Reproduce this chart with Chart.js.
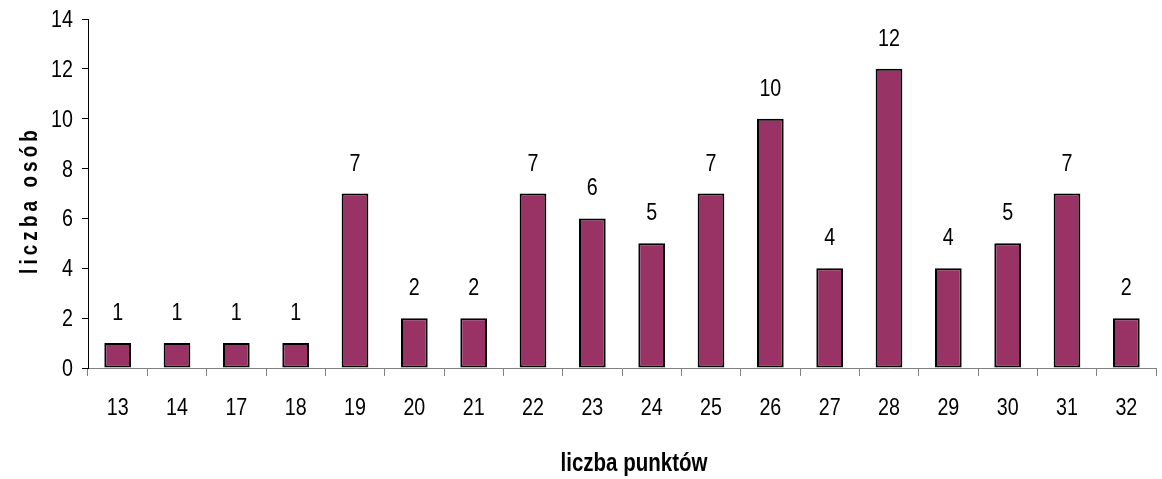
<!DOCTYPE html>
<html>
<head>
<meta charset="utf-8">
<script src="https://cdn.jsdelivr.net/npm/chart.js@4/dist/chart.umd.min.js"></script>
<style>
  html, body { margin: 0; padding: 0; background: #fff; }
  #wrap { width: 1162px; height: 479px; }
</style>
</head>
<body>
<div id="wrap"><canvas id="canvas"></canvas></div>
<script>
var points = ["13", "14", "17", "18", "19", "20", "21", "22", "23", "24", "25", "26", "27", "28", "29", "30", "31", "32"];
var people = [1, 1, 1, 1, 7, 2, 2, 7, 6, 5, 7, 10, 4, 12, 4, 5, 7, 2];
var yTicks = [0, 2, 4, 6, 8, 10, 12, 14];
var xTitle = 'liczba punktów';
var yTitle = 'liczba osób';

var fontFamily = "'Liberation Sans', Arial, sans-serif";
var narrow = 0.82; // squeeze to look like Arial Narrow

function narrowText(ctx, text, x, y, font, align, baseline) {
    ctx.save();
    ctx.font = font;
    ctx.fillStyle = '#000';
    ctx.textAlign = align;
    ctx.textBaseline = baseline;
    ctx.translate(x, y);
    ctx.scale(narrow, 1);
    ctx.fillText(text, 0, 0);
    ctx.restore();
}

// tick labels, value labels and axis titles in a narrow face
var narrowLabels = {
    id: 'narrowLabels',
    afterDraw: function(chart) {
        var ctx = chart.ctx;
        var xs = chart.scales.x, ys = chart.scales.y;
        var area = chart.chartArea;
        var f = "24px " + fontFamily;

        yTicks.forEach(function(v) {
            narrowText(ctx, String(v), area.left - 15, ys.getPixelForValue(v) + 8, f, 'right', 'alphabetic');
        });
        points.forEach(function(p, i) {
            narrowText(ctx, p, xs.getPixelForValue(i), area.bottom + 47, f, 'center', 'alphabetic');
        });
        var meta = chart.getDatasetMeta(0);
        meta.data.forEach(function(bar, i) {
            narrowText(ctx, String(people[i]), bar.x, bar.y - 23, f, 'center', 'alphabetic');
        });

        narrowText(ctx, xTitle, 634, 471, "bold 25px " + fontFamily, 'center', 'alphabetic');

        ctx.save();
        ctx.translate(37, 200);
        ctx.rotate(-Math.PI / 2);
        ctx.scale(narrow, 1);
        ctx.font = "bold 23px " + fontFamily;
        ctx.letterSpacing = '5px';
        ctx.fillStyle = '#000';
        ctx.textAlign = 'center';
        ctx.textBaseline = 'alphabetic';
        ctx.fillText(yTitle, 0, 0);
        ctx.restore();
    }
};

window.onload = function() {
    var ctx = document.getElementById("canvas").getContext("2d");
    new Chart(ctx, {
        type: 'bar',
        data: {
            labels: points,
            datasets: [{
                data: people,
                backgroundColor: '#993366',
                borderColor: '#000',
                borderWidth: 2,
                borderSkipped: false,
                barPercentage: 0.45,
                categoryPercentage: 1
            }]
        },
        options: {
            responsive: true,
            maintainAspectRatio: false,
            animation: false,
            layout: { padding: { top: 19, right: 6, left: 82, bottom: 103 } },
            plugins: {
                legend: { display: false },
                tooltip: { enabled: false }
            },
            scales: {
                x: {
                    offset: true,
                    grid: {
                        offset: true,
                        drawOnChartArea: false,
                        drawTicks: true,
                        tickLength: 8,
                        color: '#808080'
                    },
                    border: { color: '#808080', width: 1 },
                    ticks: { display: false }
                },
                y: {
                    min: 0,
                    max: 14,
                    afterBuildTicks: function(axis) {
                        axis.ticks = yTicks.map(function(v) { return { value: v }; });
                    },
                    grid: {
                        drawOnChartArea: false,
                        drawTicks: true,
                        tickLength: 6,
                        color: '#000'
                    },
                    border: { color: '#000', width: 1 },
                    ticks: { display: false }
                }
            }
        },
        plugins: [narrowLabels]
    });
};
</script>
</body>
</html>
